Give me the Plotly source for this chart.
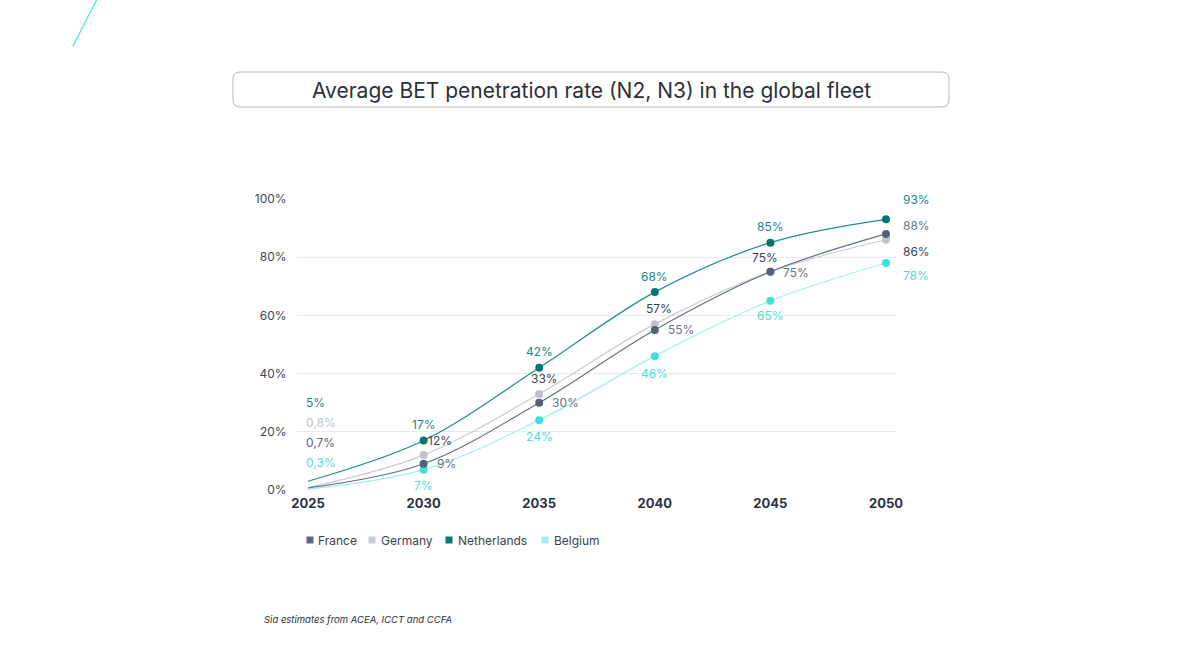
import plotly.graph_objects as go

# ---------------- data ----------------
years = [2025, 2030, 2035, 2040, 2045, 2050]
france = [0.7, 9, 30, 55, 75, 88]
germany = [0.8, 12, 33, 57, 75, 86]
netherlands = [3, 17, 42, 68, 85, 93]
belgium = [0.3, 7, 24, 46, 65, 78]

france_labels = ["0,7%", "9%", "30%", "55%", "75%", "88%"]
germany_labels = ["0,8%", "12%", "33%", "57%", "75%", "86%"]
netherlands_labels = ["5%", "17%", "42%", "68%", "85%", "93%"]
belgium_labels = ["0,3%", "7%", "24%", "46%", "65%", "78%"]

y_ticks = [0, 20, 40, 60, 80, 100]
y_tick_text = ["0%", "20%", "40%", "60%", "80%", "100%"]

title_text = "Average BET penetration rate (N2, N3) in the global fleet"
source_text = "Sia estimates from ACEA, ICCT and CCFA"

# ---------------- styles ----------------
FONT = "Inter"
W, H = 1200, 670
L, R, T, B = 297, 897, 199, 490  # plot area in pixels

series = [
    dict(name="France", y=france, labels=france_labels, line="#667084", dot="#566074",
         lab="#6b7385"),
    dict(name="Germany", y=germany, labels=germany_labels, line="#c9ccd4", dot="#bfc2cb",
         lab="#3b4352"),
    dict(name="Netherlands", y=netherlands, labels=netherlands_labels, line="#1f8d8b",
         dot="#057570", lab="#1a8785"),
    dict(name="Belgium", y=belgium, labels=belgium_labels, line="#9ef0ee", dot="#3fe0db",
         lab="#4fdcd8"),
]


def px(x):
    return (x - L) / (R - L)


def py(y):
    return (B - y) / (B - T)


fig = go.Figure()

# draw order: Belgium, France, Germany, Netherlands (Netherlands on top)
for s in [series[3], series[1], series[0], series[2]]:
    sizes = [0] + [8] * (len(years) - 1)
    fig.add_trace(go.Scatter(
        x=years, y=s["y"], mode="lines+markers", name=s["name"],
        line=dict(color=s["line"], width=1.2, shape="spline", smoothing=1.0),
        marker=dict(color=s["dot"], size=sizes, opacity=1, line=dict(width=0)),
        showlegend=False, cliponaxis=False, hoverinfo="skip",
    ))

annotations = []
# per-point label offsets (pixels)
offsets = {
    "Netherlands": dict(dx=[0] * 6, dy=[0, 16, 16, 16, 16, 20], anchor="center"),
    "Belgium": dict(dx=[0] * 6, dy=[0, -16, -16, -17, -15, -12], anchor="center"),
    "Germany": dict(dx=[0, 16, 5, 4, -5, 16], dy=[0, 15, 15, 16, 14, -12], anchor="center"),
    "France": dict(dx=[0, 11, 11, 11, 11, 16], dy=[0, 0, 0, 0, -1, 8], anchor="left"),
}
start_stack = {"Netherlands": 0, "Germany": 1, "France": 2, "Belgium": 3}
LAB_SIZE = 12

for s in series:
    o = offsets[s["name"]]
    for i, yr in enumerate(years):
        if i == 0:
            # stacked labels at the start of the chart
            ypix = 402 + 20 * start_stack[s["name"]]
            color = s["lab"]
            if s["name"] == "Germany":
                color = "#c0c3cb"
            elif s["name"] == "France":
                color = "#5d6678"
            annotations.append(dict(
                x=yr, y=(B - ypix) / (B - T) * 100, xref="x", yref="y", text=s["labels"][i],
                showarrow=False, xanchor="left", xshift=-4, yanchor="middle",
                font=dict(family=FONT, size=LAB_SIZE, color=color)))
            continue
        if i == len(years) - 1:
            annotations.append(dict(
                x=yr, y=s["y"][i], xref="x", yref="y", text=s["labels"][i],
                showarrow=False, xanchor="left", xshift=15, yshift=o["dy"][i],
                yanchor="middle",
                font=dict(family=FONT, size=LAB_SIZE, color=s["lab"])))
            continue
        annotations.append(dict(
            x=yr, y=s["y"][i], xref="x", yref="y", text=s["labels"][i],
            showarrow=False, xanchor=o["anchor"], xshift=o["dx"][i], yshift=o["dy"][i],
            yanchor="middle",
            font=dict(family=FONT, size=LAB_SIZE, color=s["lab"])))

# title
annotations.append(dict(
    x=px(591), y=py(90), xref="paper", yref="paper", text=title_text, showarrow=False,
    xanchor="center", yanchor="middle", font=dict(family=FONT, size=21, color="#2b3039")))

# legend (custom)
legend_pos = [(310, 316), (372, 379), (449, 456), (545, 552)]
legend_colors = ["#5f697c", "#c9ccd4", "#0b7a78", "#9ef0ee"]
shapes = []
for s, (sx, tx), c in zip(series, legend_pos, legend_colors):
    shapes.append(dict(type="rect", xref="paper", yref="paper",
                       x0=px(sx - 3.5), x1=px(sx + 3.5), y0=py(543.5), y1=py(536.5),
                       fillcolor=c, line=dict(width=0)))
    annotations.append(dict(
        x=px(tx), y=py(540), xref="paper", yref="paper", text=s["name"], showarrow=False,
        xanchor="left", yanchor="middle", font=dict(family=FONT, size=12, color="#3b4352")))

# source
annotations.append(dict(
    x=px(262), y=py(619), xref="paper", yref="paper",
    text="<i>" + source_text + "</i>", showarrow=False, xanchor="left", yanchor="middle",
    font=dict(family=FONT, size=9.5, color="#2b3039")))

# rounded title box
x0, x1, y0, y1, r = 233, 949, 72, 107, 7
path = (f"M {px(x0 + r)},{py(y0)} L {px(x1 - r)},{py(y0)} "
        f"Q {px(x1)},{py(y0)} {px(x1)},{py(y0 + r)} "
        f"L {px(x1)},{py(y1 - r)} Q {px(x1)},{py(y1)} {px(x1 - r)},{py(y1)} "
        f"L {px(x0 + r)},{py(y1)} Q {px(x0)},{py(y1)} {px(x0)},{py(y1 - r)} "
        f"L {px(x0)},{py(y0 + r)} Q {px(x0)},{py(y0)} {px(x0 + r)},{py(y0)} Z")
shapes.append(dict(type="path", xref="paper", yref="paper", path=path,
                   line=dict(color="#b3b7c0", width=1), fillcolor="rgba(0,0,0,0)"))

# decorative cyan stroke in the top-left corner
shapes.append(dict(type="line", xref="paper", yref="paper",
                   x0=px(97), y0=py(-1), x1=px(73), y1=py(46),
                   line=dict(color="#3fe6e0", width=1.2)))

fig.update_layout(
    width=W, height=H,
    margin=dict(l=L, r=W - R, t=T, b=H - B, pad=0),
    paper_bgcolor="white", plot_bgcolor="white",
    showlegend=False,
    xaxis=dict(
        range=[2024.524, 2050.476], tickvals=years, ticktext=[f"<b>{y}</b>" for y in years],
        showgrid=False, zeroline=False, showline=False,
        ticks="outside", ticklen=1, tickcolor="rgba(0,0,0,0)",
        tickfont=dict(family=FONT, size=13, color="#2b3240"), fixedrange=True,
    ),
    yaxis=dict(
        range=[0, 100], tickvals=y_ticks, ticktext=y_tick_text,
        showgrid=True, gridcolor="#e9eaee", gridwidth=1, zeroline=False, showline=False,
        ticks="outside", ticklen=7, tickcolor="rgba(0,0,0,0)",
        tickfont=dict(family=FONT, size=12, color="#3d4552"), fixedrange=True,
    ),
    annotations=annotations,
    shapes=shapes,
    font=dict(family=FONT),
)

fig.write_html("out.html")
